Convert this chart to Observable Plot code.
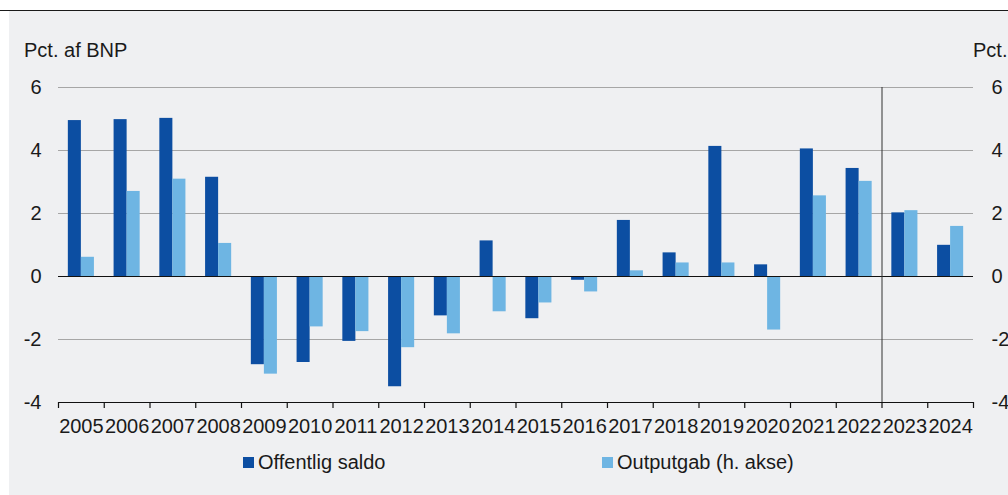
<!DOCTYPE html>
<html>
<head>
<meta charset="utf-8">
<script src="https://cdn.jsdelivr.net/npm/d3@7"></script>
<script src="https://cdn.jsdelivr.net/npm/@observablehq/plot@0.6"></script>
<style>
  html, body { margin: 0; padding: 0; background: #ffffff; width: 1008px; height: 495px; overflow: hidden; }
  body { font-family: "Liberation Sans", Arial, sans-serif; color: #1a1a1a; position: relative; }
  #topline { position: absolute; left: 0; top: 10px; width: 1008px; height: 1px; background: #1a1a1a; }
  #panel { position: absolute; left: 9px; top: 11px; width: 999px; height: 484px; background: #eff0f2; }
  .ylab { position: absolute; font-size: 20px; line-height: 20px; white-space: nowrap; }
  #chart { position: absolute; left: 0; top: 60px; }
  .leg { position: absolute; font-size: 20px; line-height: 20px; white-space: nowrap; top: 452px; }
  .sw { position: absolute; width: 11px; height: 11px; top: 457px; }
</style>
</head>
<body>
<div id="topline"></div>
<div id="panel"></div>
<div class="ylab" style="left:24px; top:40px;">Pct. af BNP</div>
<div class="ylab" style="left:973px; top:40px;">Pct.</div>
<div id="chart"></div>
<div class="sw" style="left:243px; background:#0c4ea2;"></div>
<div class="leg" style="left:258px;">Offentlig saldo</div>
<div class="sw" style="left:602px; background:#6eb5e3;"></div>
<div class="leg" style="left:617px;">Outputgab (h. akse)</div>
<script>
const years = [2005, 2006, 2007, 2008, 2009, 2010, 2011, 2012, 2013, 2014, 2015, 2016, 2017, 2018, 2019, 2020, 2021, 2022, 2023, 2024];
const offentligSaldo = [4.95, 4.98, 5.02, 3.15, -2.80, -2.73, -2.06, -3.50, -1.25, 1.13, -1.34, -0.12, 1.78, 0.75, 4.13, 0.37, 4.05, 3.43, 2.02, 0.99];
const outputgab = [0.61, 2.70, 3.09, 1.05, -3.10, -1.60, -1.75, -2.26, -1.82, -1.12, -0.84, -0.49, 0.18, 0.43, 0.43, -1.70, 2.56, 3.02, 2.09, 1.59];
const yTicks = [-4, -2, 0, 2, 4, 6];
const gridTicks = [-2, 2, 4, 6];
const forecastStart = 2023;

const colDark = "#0c4ea2";
const colLight = "#6eb5e3";
const barW = 0.285;

const saldoData = years.map((y, i) => ({year: y, value: offentligSaldo[i]}));
const gapData = years.map((y, i) => ({year: y, value: outputgab[i]}));
const boundaries = years.map(y => y - 0.5).concat([years[years.length - 1] + 0.5]);

const chart = Plot.plot({
  width: 1008,
  height: 380,
  marginLeft: 58,
  marginRight: 35,
  marginTop: 27,
  marginBottom: 38,
  style: {fontFamily: "Liberation Sans, Arial, sans-serif", fontSize: "20px", color: "#1a1a1a", background: "transparent", overflow: "visible"},
  x: {domain: [years[0] - 0.5, years[years.length - 1] + 0.5], axis: null},
  y: {domain: [-4, 6], axis: null},
  marks: [
    Plot.ruleY(gridTicks, {stroke: "#a6a6a6", strokeWidth: 1}),
    Plot.rectY(saldoData, {x1: d => d.year - barW, x2: d => d.year, y1: 0, y2: "value", fill: colDark}),
    Plot.rectY(gapData, {x1: d => d.year, x2: d => d.year + barW, y1: 0, y2: "value", fill: colLight}),
    Plot.ruleY([0], {stroke: "#111", strokeWidth: 1.2}),
    Plot.ruleX([forecastStart - 0.5], {y1: -4, y2: 6, stroke: "#333", strokeWidth: 1}),
    Plot.ruleY([-4], {stroke: "#111", strokeWidth: 1.2}),
    Plot.axisX(boundaries, {anchor: "bottom", tickSize: 6, tickFormat: () => "", stroke: "#111", strokeWidth: 1.2}),
    Plot.axisX(years, {anchor: "bottom", tickSize: 0, tickPadding: 16, tickFormat: d => String(d), fill: "#1a1a1a"}),
    Plot.axisY(yTicks, {anchor: "left", tickSize: 0, tickPadding: 17, tickFormat: d => String(d), label: null, fill: "#1a1a1a"}),
    Plot.axisY(yTicks, {anchor: "right", tickSize: 0, tickPadding: 18, tickFormat: d => String(d), label: null, fill: "#1a1a1a"})
  ]
});
document.getElementById("chart").appendChild(chart);
</script>
</body>
</html>
